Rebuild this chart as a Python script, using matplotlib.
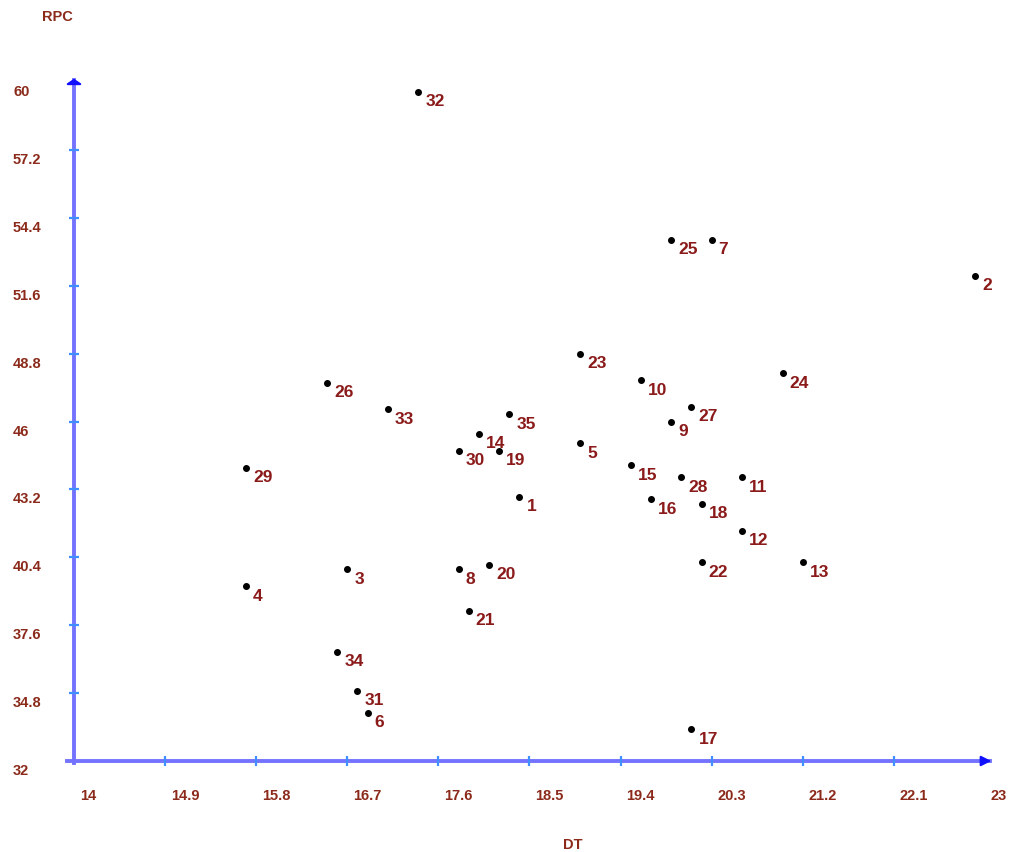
import matplotlib
matplotlib.use("Agg")
from matplotlib import pyplot as plt

# point ids with DT (x) and RPC (y) values
ids = list(range(1, 36))
dt = [18.4, 22.9, 16.7, 15.7, 19.0, 16.9, 20.3, 17.8, 19.9, 19.6,
      20.6, 20.6, 21.2, 18.0, 19.5, 19.7, 20.1, 20.2, 18.2, 18.1,
      17.9, 20.2, 19.0, 21.0, 19.9, 16.5, 20.1, 20.0, 15.7, 17.8,
      16.8, 17.4, 17.1, 16.6, 18.3]
rpc = [42.9, 52.0, 39.9, 39.2, 45.1, 34.0, 53.5, 39.9, 46.0, 47.7,
       43.7, 41.5, 40.2, 45.5, 44.2, 42.8, 33.3, 42.6, 44.8, 40.1,
       38.2, 40.2, 48.8, 48.0, 53.5, 47.6, 46.6, 43.7, 44.1, 44.8,
       34.9, 59.6, 46.5, 36.5, 46.3]

x_ticks = [14, 14.9, 15.8, 16.7, 17.6, 18.5, 19.4, 20.3, 21.2, 22.1, 23]
x_labels = ['14', '14.9', '15.8', '16.7', '17.6', '18.5', '19.4', '20.3', '21.2', '22.1', '23']
y_ticks = [32, 34.8, 37.6, 40.4, 43.2, 46, 48.8, 51.6, 54.4, 57.2, 60]
y_labels = ['32', '34.8', '37.6', '40.4', '43.2', '46', '48.8', '51.6', '54.4', '57.2', '60']

label_color = '#8b2a1a'
axis_color = '#7373ff'
tick_color = '#3f8fff'
font = 'Liberation Sans'

fig = plt.figure(figsize=(10.12, 8.52), dpi=100)
ax = fig.add_axes([74 / 1012, 91 / 852, 911 / 1012, 679 / 852])
ax.set_xlim(14, 23)
ax.set_ylim(32, 60)
ax.axis('off')

# axis lines with arrow heads
ax.plot([13.93, 23.05], [32, 32], color=axis_color, lw=2.8, clip_on=False, zorder=2)
ax.plot([14, 14], [31.9, 60.1], color=axis_color, lw=2.8, clip_on=False, zorder=2)
ax.annotate('', xy=(23.09, 32), xytext=(22.98, 32), annotation_clip=False,
            arrowprops=dict(arrowstyle='-|>,head_length=0.6,head_width=0.3', color='#1010ff', lw=1.5))
ax.annotate('', xy=(14, 60.25), xytext=(14, 59.9), annotation_clip=False,
            arrowprops=dict(arrowstyle='-|>,head_length=0.3,head_width=0.45', color='#1010ff', lw=1.5))

# tick marks and tick labels
ax.plot(x_ticks[1:-1], [32] * (len(x_ticks) - 2), ls='none', marker='|', ms=7, mew=1.6,
        color=tick_color, clip_on=False, zorder=3)
ax.plot([14] * (len(y_ticks) - 2), y_ticks[1:-1], ls='none', marker='_', ms=7, mew=1.6,
        color=tick_color, clip_on=False, zorder=3)
for t, lab in zip(x_ticks, x_labels):
    ax.annotate(lab, xy=(t, 32), xytext=(6, -35), textcoords='offset pixels',
                ha='left', va='center', fontsize=10.5, fontweight='bold',
                family=font, color=label_color, annotation_clip=False)
for t, lab in zip(y_ticks, y_labels):
    ax.annotate(lab, xy=(14, t), xytext=(-61, -10), textcoords='offset pixels',
                ha='left', va='center', fontsize=10.5, fontweight='bold',
                family=font, color=label_color, annotation_clip=False)

# axis titles
fig.text(42 / 1012, 1 - 17 / 852, 'RPC', ha='left', va='center', fontsize=10.5,
         fontweight='bold', family=font, color=label_color)
fig.text(573 / 1012, 1 - 845 / 852, 'DT', ha='center', va='center', fontsize=10.5,
         fontweight='bold', family=font, color=label_color)

# points and their numbers
ax.scatter(dt, rpc, s=16, color='black', zorder=4, clip_on=False)
for i, x, y in zip(ids, dt, rpc):
    ax.annotate(str(i), xy=(x, y), xytext=(7, -10), textcoords='offset pixels',
                ha='left', va='center', fontsize=12.5, fontweight='bold',
                family=font, color='#8b1a1a', annotation_clip=False)

fig.savefig('out.png', dpi=100, facecolor='white')
